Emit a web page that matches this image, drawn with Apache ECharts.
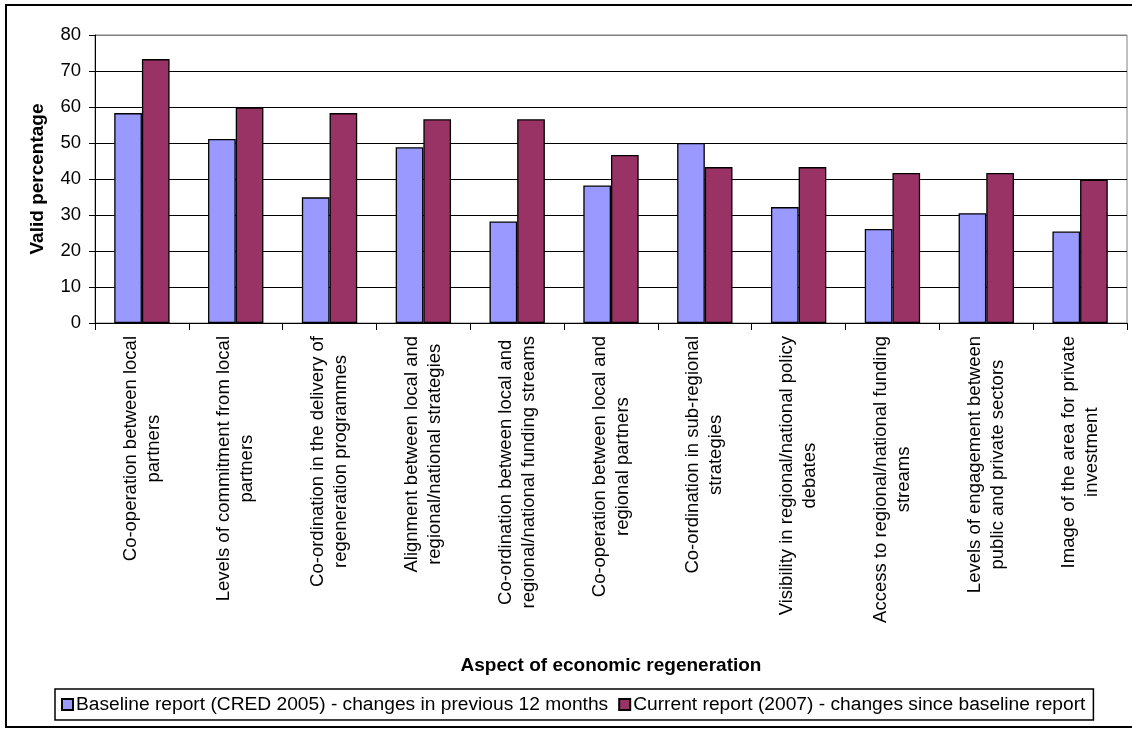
<!DOCTYPE html>
<html>
<head>
<meta charset="utf-8">
<script src="https://cdn.jsdelivr.net/npm/echarts@6/dist/echarts.min.js"></script>
<style>
html,body{margin:0;padding:0;background:#fff;}
#chart{width:1132px;height:729px;}
</style>
</head>
<body>
<div id="chart"></div>
<script>
var categories = [
  "Co-operation between local\npartners",
  "Levels of commitment from local\npartners",
  "Co-ordination in the delivery of\nregeneration programmes",
  "Alignment between local and\nregional/national strategies",
  "Co-ordination between local and\nregional/national funding streams",
  "Co-operation between local and\nregional partners",
  "Co-ordination in sub-regional\nstrategies",
  "Visibility in regional/national policy\ndebates",
  "Access to regional/national funding\nstreams",
  "Levels of engagement between\npublic and private sectors",
  "Image of the area for private\ninvestment"
];
var baselineName = "Baseline report (CRED 2005) - changes in previous 12 months";
var currentName = "Current report (2007) - changes since baseline report";
var baselineValues = [58.3, 51.1, 34.9, 48.8, 28.2, 38.2, 50.0, 32.2, 26.1, 30.5, 25.4];
var currentValues = [73.3, 59.9, 58.3, 56.6, 56.6, 46.7, 43.3, 43.3, 41.7, 41.7, 39.8];
var yTicks = [0, 10, 20, 30, 40, 50, 60, 70, 80];

var FONT = "'Liberation Sans', Arial, sans-serif";
var chart = echarts.init(document.getElementById('chart'), null, {renderer: 'canvas'});
var option = {
  backgroundColor: '#ffffff',
  animation: false,
  textStyle: {fontFamily: FONT, color: '#000'},
  graphic: [{
    type: 'rect',
    shape: {x: 6, y: 5, width: 1200, height: 722},
    style: {fill: 'none', stroke: '#000', lineWidth: 2},
    silent: true
  }],
  grid: {
    left: 95, right: 5, top: 35, bottom: 406,
    show: true, borderColor: '#808080', borderWidth: 1, backgroundColor: '#fff'
  },
  legend: {
    left: 55, top: 689,
    padding: [6, 8, 6, 6],
    borderColor: '#000', borderWidth: 1.5,
    itemWidth: 11, itemHeight: 11, itemGap: 10,
    icon: 'rect',
    textStyle: {fontFamily: FONT, fontSize: 19.2, color: '#000', padding: [0, 0, 0, -2]},
    data: [baselineName, currentName]
  },
  xAxis: {
    type: 'category',
    data: categories,
    name: 'Aspect of economic regeneration',
    nameLocation: 'middle',
    nameGap: 333,
    nameTextStyle: {fontFamily: FONT, fontSize: 19, fontWeight: 'bold', color: '#000'},
    axisLine: {lineStyle: {color: '#000', width: 1}},
    axisTick: {show: true, length: 7, lineStyle: {color: '#000'}},
    axisLabel: {
      interval: 0,
      rotate: 90,
      margin: 13,
      formatter: function (v) {
        return v.split('\n').map(function (s) { return '{a|' + s + '}'; }).join('\n');
      },
      rich: {
        a: {align: 'center', fontFamily: FONT, fontSize: 18.5, lineHeight: 23, color: '#000'}
      }
    }
  },
  yAxis: {
    type: 'value',
    min: yTicks[0], max: yTicks[yTicks.length - 1], interval: 10,
    name: 'Valid percentage',
    nameLocation: 'middle',
    nameRotate: 90,
    nameGap: 48,
    nameTextStyle: {fontFamily: FONT, fontSize: 19, fontWeight: 'bold', color: '#000'},
    axisLine: {show: true, lineStyle: {color: '#000', width: 1}},
    axisTick: {show: true, length: 6, lineStyle: {color: '#000'}},
    axisLabel: {margin: 14, fontFamily: FONT, fontSize: 18.5, color: '#000'},
    splitLine: {show: true, lineStyle: {color: ['#000', '#000', '#000', '#000', '#000', '#000', '#000', '#000', '#808080'], width: 1}}
  },
  series: [{
    name: baselineName,
    type: 'bar',
    data: baselineValues,
    barGap: '0%',
    barCategoryGap: '41%',
    itemStyle: {color: '#9999FF', borderColor: '#000', borderWidth: 1.3}
  }, {
    name: currentName,
    type: 'bar',
    data: currentValues,
    itemStyle: {color: '#993366', borderColor: '#000', borderWidth: 1.3}
  }]
};
chart.setOption(option);
</script>
</body>
</html>
